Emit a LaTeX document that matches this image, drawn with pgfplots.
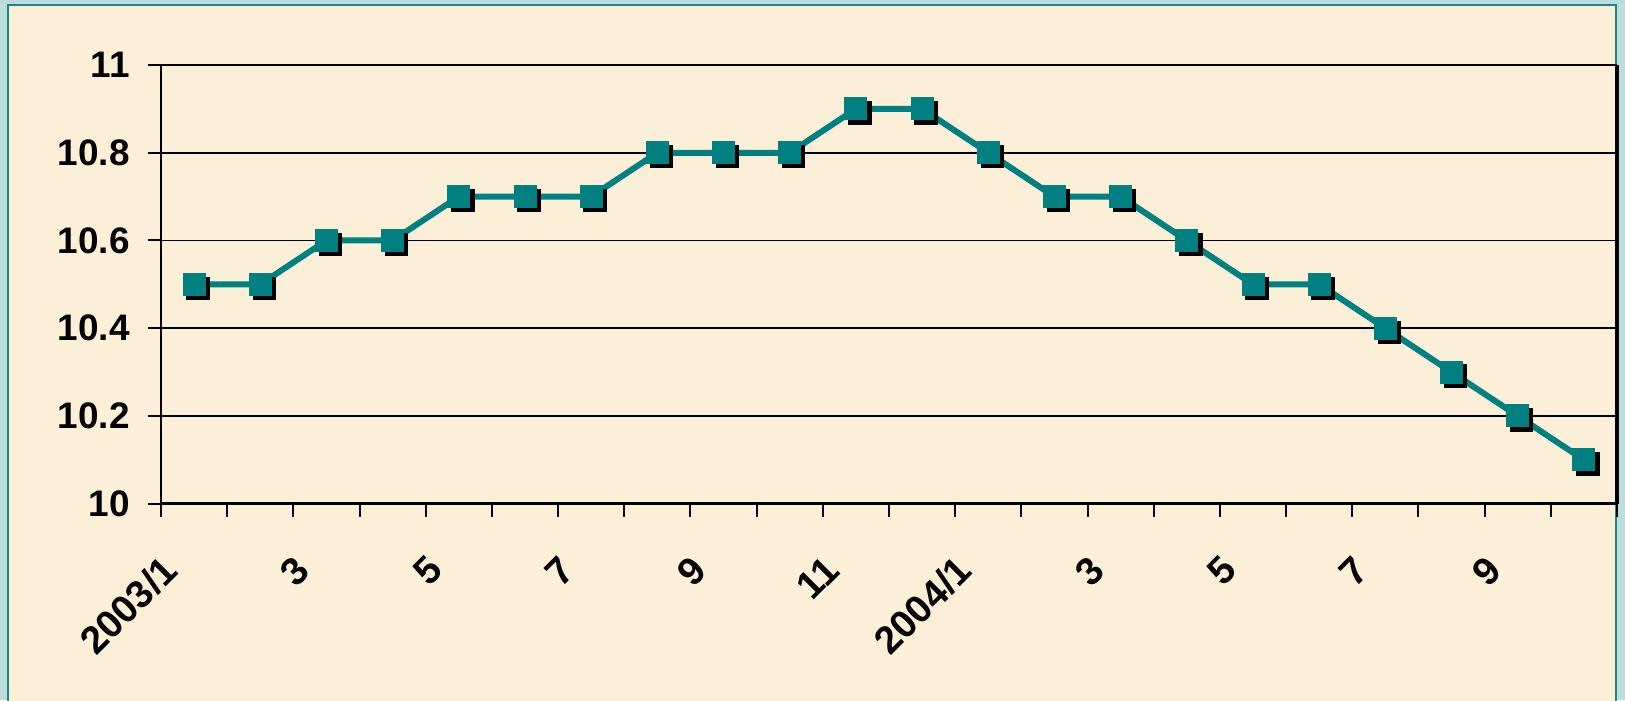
\documentclass[border=0pt]{standalone}
\usepackage{pgfplots}
\pgfplotsset{compat=1.18}
\usepackage{fontspec}
\setmainfont{Liberation Sans}

\definecolor{outerbg}{HTML}{BCDDDD}
\definecolor{panel}{HTML}{FCEFD8}
\definecolor{frame}{HTML}{1F8585}
\definecolor{lineteal}{HTML}{008080}

% monthly values, 2003/1 .. 2004/10
\pgfplotstableread{
x y
1 10.5
2 10.5
3 10.6
4 10.6
5 10.7
6 10.7
7 10.7
8 10.8
9 10.8
10 10.8
11 10.9
12 10.9
13 10.8
14 10.7
15 10.7
16 10.6
17 10.5
18 10.5
19 10.4
20 10.3
21 10.2
22 10.1
}\rate

\begin{document}
\begin{tikzpicture}
\path[use as bounding box] (0,0) rectangle (162.5mm,70mm);
\fill[outerbg] (0,0) rectangle (162.5mm,70mm);
\filldraw[fill=panel,draw=frame,line width=0.25mm] (0.8mm,-2mm) rectangle (161.6mm,69.5mm);
\begin{axis}[
    at={(16.1mm,19.63mm)}, anchor=south west,
    scale only axis, width=145.6mm, height=43.87mm,
    xmin=0.5, xmax=22.5, ymin=10, ymax=11,
    clip=false,
    axis x line*=bottom, axis y line*=left,
    axis line style={line width=0.27mm, -},
    xtick={0.5,1.5,...,22.5}, xticklabels={},
    ytick={10,10.2,10.4,10.6,10.8,11},
    yticklabels={10,10.2,10.4,10.6,10.8,11},
    ymajorgrids,
    major grid style={black, line width=0.15mm},
    tick align=outside, major tick length=1.3mm,
    tick style={black, line width=0.2mm},
    tick label style={font=\fontsize{10.5}{12}\selectfont\bfseries},
    yticklabel style={anchor=east, xshift=-0.6mm},
    extra x ticks={1,3,5,7,9,11,13,15,17,19,21},
    extra x tick labels={2003/1,3,5,7,9,11,2004/1,3,5,7,9},
    extra x tick style={major tick length=0pt,
        tick label style={font=\fontsize{11}{12}\selectfont\bfseries,
            xshift=-1.5mm, yshift=-5.1mm, rotate=45, anchor=east}},
]
\addplot[only marks, mark=square*, mark size=1.1mm,
    mark options={fill=black, draw=black, xshift=0.4mm, yshift=-0.4mm}] table {\rate};
\addplot[lineteal, line width=0.6mm, mark=square*, mark size=1.1mm,
    mark options={fill=lineteal, draw=lineteal, line width=0.1mm}] table {\rate};
\draw[line width=0.4mm] (rel axis cs:1,0) -- (rel axis cs:1,1);
\end{axis}
\end{tikzpicture}
\end{document}
